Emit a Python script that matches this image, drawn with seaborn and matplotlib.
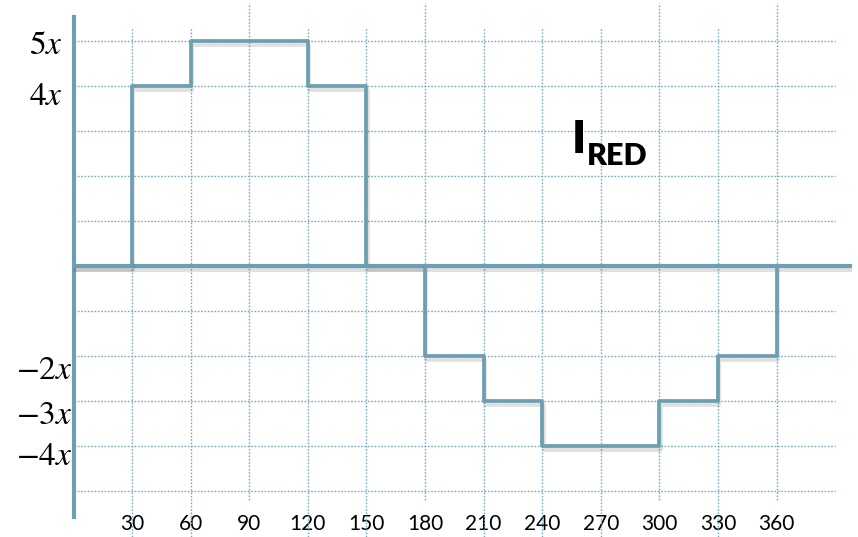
import matplotlib
matplotlib.use('Agg')
import matplotlib.pyplot as plt
import matplotlib.patheffects as pe
import matplotlib.transforms as mtransforms
import seaborn as sns
import pandas as pd

# step waveform of I_RED (value holds from each angle to the next)
angles = [0, 30, 60, 120, 150, 180, 210, 240, 300, 330, 360]
levels = [0, 4, 5, 4, 0, -2, -3, -4, -3, -2, 0]

xtick_vals = [30, 60, 90, 120, 150, 180, 210, 240, 270, 300, 330, 360]
ytick_vals = [5, 4, -2, -3, -4]
ytick_labels = ['$5x$', '$4x$', '$-2x$', '$-3x$', '$-4x$']
grid_levels = [5, 4, 3, 2, 1, -1, -2, -3, -4, -5]
tall_grid = [90, 180, 300, 360]
short_grid = [30, 60, 120, 150, 210, 240, 270, 330]

teal = '#6d9fb0'
dot = '#7aaabd'

sns.set_style('white')
plt.rcParams['font.family'] = ['Lato', 'DejaVu Sans']
plt.rcParams['mathtext.fontset'] = 'stix'

fig = plt.figure(figsize=(8.58, 5.37), dpi=100)
ax = fig.add_axes([73.5 / 858, 20 / 537, (852 - 73.5) / 858, 500 / 537])
ax.set_xlim(0, 398.6)
ax.set_ylim(-5.578, 5.533)

shadow = [pe.SimpleLineShadow(offset=(1, -3), shadow_color='k', alpha=0.12), pe.Normal()]
grid_kw = dict(colors=dot, linewidth=1.0, linestyles=(0, (1.2, 1.2)), zorder=1,
               clip_on=False, snap=True)

# dotted grid
ax.hlines(grid_levels, 0, 389.9, **grid_kw)
ax.vlines(tall_grid, -5.2, 5.84, **grid_kw)
ax.vlines(short_grid, -6.02, 5.29, **grid_kw)

# axes lines
for s in ['top', 'right', 'bottom']:
    ax.spines[s].set_visible(False)
ax.spines['left'].set_color(teal)
ax.spines['left'].set_linewidth(3)
ax.spines['left'].set_zorder(3)
ax.axhline(0, color=teal, linewidth=3, zorder=3, path_effects=shadow)

df = pd.DataFrame({'angle': angles, 'level': levels})
sns.lineplot(data=df, x='angle', y='level', drawstyle='steps-post', estimator=None,
             color=teal, linewidth=2.7, ax=ax, zorder=4, path_effects=shadow)
ax.set_xlabel('')
ax.set_ylabel('')

ax.set_xticks(xtick_vals)
ax.set_xticklabels([str(v) for v in xtick_vals])
ax.tick_params(axis='x', length=0, pad=-2, labelsize=15, labelcolor='black')
ax.set_yticks(ytick_vals)
ax.set_yticklabels(ytick_labels)
ax.tick_params(axis='y', length=0, pad=8, labelsize=24, labelcolor='black')

# per-label nudges (pixels: right, down) to match the hand placed labels
nudges = [(0, 1), (0, 7), (10, 11), (10, 11), (10, 7)]
for lab, (dx, dy) in zip(ax.get_yticklabels(), nudges):
    lab.set_transform(lab.get_transform() +
                      mtransforms.ScaledTranslation(dx / 100, -dy / 100, fig.dpi_scale_trans))

ax.text(255.2, 2.51, 'I', fontsize=33, fontweight='heavy', color='black', ha='left', va='baseline')
ax.text(262.9, 2.244, 'RED', fontsize=22, fontweight='heavy', color='black', ha='left', va='baseline')

fig.savefig('out.png', dpi=100)
